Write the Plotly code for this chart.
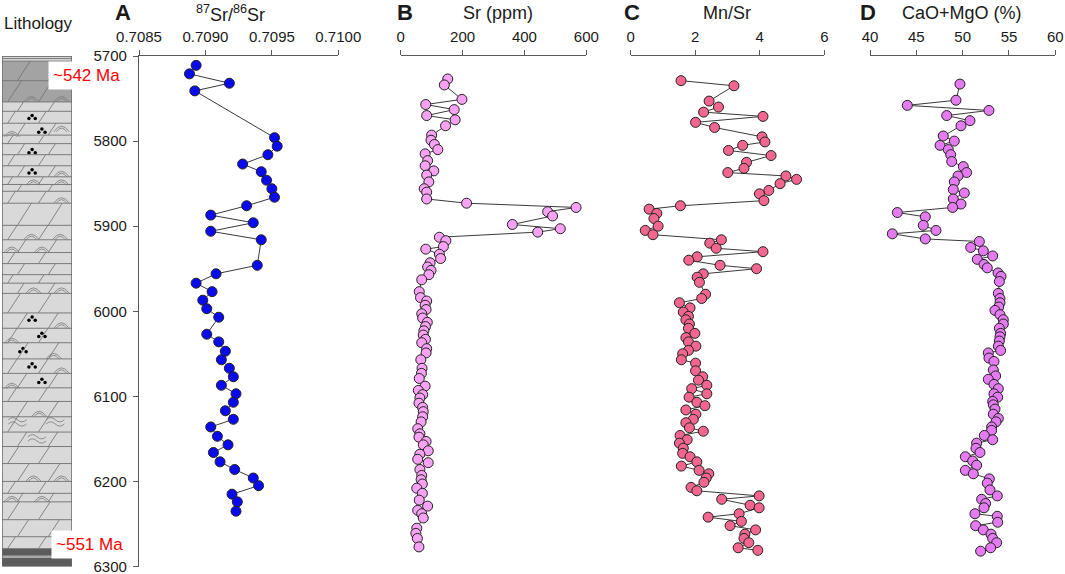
import plotly.graph_objects as go

# ---- data ----
# A: 87Sr/86Sr
a_depth = [5711, 5721, 5732, 5741, 5796, 5806, 5816, 5827, 5836, 5846,
           5856, 5866, 5876, 5887, 5896, 5906, 5916, 5946, 5956, 5967,
           5977, 5987, 5997, 6007, 6027, 6036, 6047, 6057, 6067, 6077,
           6087, 6097, 6107, 6117, 6127, 6136, 6147, 6157, 6166, 6177,
           6186, 6196, 6205, 6215, 6224, 6235]
a_sr_ratio = [0.70893, 0.70888, 0.70918, 0.70892, 0.70952, 0.70954, 0.70947, 0.70928, 0.70942, 0.70946,
              0.70950, 0.70952, 0.70931, 0.70904, 0.70936, 0.70904, 0.70942, 0.70939, 0.70908, 0.70893,
              0.70905, 0.70898, 0.70901, 0.70910, 0.70901, 0.70910, 0.70915, 0.70912, 0.70918, 0.70921,
              0.70912, 0.70923, 0.70921, 0.70915, 0.70921, 0.70904, 0.70909, 0.70917, 0.70906, 0.70911,
              0.70922, 0.70936, 0.70940, 0.70920, 0.70924, 0.70923]

# B: Sr (ppm)
b_depth = [5727, 5734, 5751, 5757, 5763, 5770, 5775, 5782, 5793, 5799,
           5804, 5810, 5815, 5823, 5829, 5835, 5840, 5848, 5856, 5860,
           5868, 5873, 5878, 5883, 5888, 5898, 5903, 5907, 5913, 5917,
           5924, 5927, 5933, 5938, 5943, 5948, 5952, 5957, 5963, 5977,
           5984, 5988, 5993, 5998, 6003, 6008, 6013, 6018, 6023, 6028,
           6033, 6037, 6044, 6049, 6057, 6067, 6073, 6079, 6088, 6093,
           6098, 6102, 6108, 6113, 6118, 6124, 6130, 6138, 6144, 6148,
           6153, 6157, 6164, 6168, 6174, 6178, 6186, 6193, 6198, 6203,
           6208, 6214, 6222, 6229, 6234, 6238, 6243, 6255, 6261, 6267,
           6277]
b_sr = [152, 141, 198, 81, 173, 84, 176, 145, 100, 98,
        109, 120, 79, 87, 79, 107, 84, 91, 76, 84,
        84, 213, 567, 475, 491, 361, 516, 443, 125, 146,
        138, 81, 125, 129, 95, 87, 98, 91, 68, 60,
        64, 84, 79, 82, 68, 71, 86, 80, 75, 73,
        80, 68, 84, 82, 65, 69, 67, 60, 79, 57,
        71, 62, 59, 71, 73, 71, 66, 55, 62, 59,
        82, 73, 89, 62, 55, 89, 62, 68, 66, 70,
        52, 70, 60, 87, 55, 68, 73, 52, 49, 54,
        59]

# C: Mn/Sr
c_depth = [5729, 5735, 5753, 5760, 5766, 5771, 5778, 5784, 5795, 5801,
           5805, 5811, 5817, 5825, 5832, 5837, 5841, 5845, 5850, 5858,
           5862, 5870, 5876, 5880, 5885, 5891, 5900, 5905, 5910, 5916,
           5920, 5926, 5930, 5936, 5940, 5946, 5950, 5956, 5960, 5966,
           5980, 5985, 5990, 5996, 6001, 6006, 6010, 6015, 6020, 6026,
           6031, 6036, 6041, 6046, 6050, 6057, 6061, 6070, 6077, 6081,
           6087, 6091, 6097, 6101, 6107, 6111, 6116, 6121, 6127, 6131,
           6137, 6141, 6146, 6151, 6155, 6161, 6167, 6171, 6177, 6182,
           6187, 6191, 6196, 6201, 6207, 6211, 6217, 6221, 6228, 6231,
           6238, 6242, 6247, 6252, 6257, 6262, 6267, 6272, 6278, 6281]
c_mn_sr = [1.56, 3.20, 2.43, 2.72, 2.26, 4.10, 2.01, 2.60, 4.07, 4.16,
           3.47, 3.03, 4.35, 3.59, 3.51, 3.01, 4.81, 5.14, 4.63, 4.28,
           3.99, 4.13, 1.54, 0.57, 0.81, 0.72, 0.85, 0.45, 0.69, 2.81,
           2.45, 2.65, 4.10, 2.06, 1.80, 2.77, 3.90, 2.25, 2.06, 2.13,
           2.32, 2.20, 1.51, 1.84, 1.63, 1.79, 1.71, 1.82, 1.79, 1.99,
           1.71, 1.79, 2.02, 1.79, 1.61, 1.57, 2.01, 2.01, 2.23, 2.10,
           2.36, 1.89, 2.36, 1.81, 2.05, 2.30, 1.71, 2.02, 1.94, 1.71,
           1.82, 2.25, 1.53, 1.75, 1.51, 1.63, 1.61, 1.84, 2.05, 1.57,
           2.12, 2.42, 2.34, 2.27, 1.87, 2.05, 3.98, 2.82, 3.70, 3.98,
           3.36, 2.40, 3.43, 3.08, 3.87, 3.54, 3.51, 3.66, 3.33, 3.94]

# D: CaO+MgO (%)
d_depth = [5733, 5752, 5758, 5764, 5770, 5776, 5782, 5794, 5800, 5805,
           5810, 5816, 5824, 5830, 5837, 5841, 5848, 5857, 5861, 5868,
           5874, 5878, 5884, 5889, 5899, 5905, 5909, 5915, 5918, 5925,
           5929, 5935, 5939, 5945, 5949, 5955, 5959, 5965, 5979, 5985,
           5990, 5995, 5999, 6004, 6010, 6015, 6020, 6026, 6030, 6035,
           6041, 6046, 6049, 6055, 6059, 6069, 6076, 6080, 6086, 6091,
           6097, 6101, 6106, 6110, 6115, 6121, 6126, 6130, 6136, 6140,
           6146, 6151, 6155, 6161, 6166, 6171, 6176, 6181, 6187, 6191,
           6197, 6202, 6210, 6217, 6221, 6226, 6231, 6238, 6241, 6248,
           6252, 6257, 6262, 6267, 6272, 6278, 6282]
d_cao_mgo = [49.71, 49.28, 44.03, 52.84, 48.28, 50.79, 49.82, 47.91, 49.10, 47.56,
             48.45, 48.71, 48.82, 50.07, 50.43, 49.50, 49.10, 48.99, 50.18, 48.99,
             49.82, 48.92, 42.95, 45.97, 45.75, 47.12, 42.41, 45.97, 51.80, 50.87,
             52.23, 53.24, 51.58, 52.30, 52.66, 53.82, 54.14, 53.96, 53.85, 54.03,
             54.03, 53.89, 53.49, 54.03, 54.39, 54.39, 53.96, 54.10, 54.03, 53.96,
             53.85, 54.10, 52.77, 52.84, 53.38, 53.31, 53.56, 52.77, 53.38, 53.85,
             53.38, 53.78, 53.24, 53.31, 53.49, 53.31, 53.85, 53.60, 53.13, 53.13,
             52.34, 53.24, 51.51, 51.44, 51.87, 50.29, 51.08, 51.51, 50.29, 51.15,
             52.88, 52.66, 52.95, 53.74, 52.05, 52.48, 52.30, 51.33, 53.74, 53.78,
             51.40, 52.23, 53.06, 53.24, 53.67, 53.02, 51.94]

# lithology column (depths)
bed_tops = [5700, 5703, 5706, 5729, 5754, 5765, 5779, 5793, 5803, 5816,
            5829, 5842, 5851, 5859, 5873, 5899, 5916, 5931, 5944, 5957,
            5967, 5979, 6002, 6020, 6037, 6056, 6073, 6090, 6106, 6124,
            6142, 6159, 6179, 6200, 6214, 6224, 6245, 6265, 6279]
dark_top = (5706, 5754)
dark_bottom = (6279, 6300)
arc_depths = [5754, 5754, 5789, 5795, 5842, 5852, 5852, 5873, 5916, 5916,
              5931, 5931, 5979, 5979, 6020, 6038, 6056, 6073, 6091, 6124,
              6200, 6200, 6224, 6224]
arc_pos = [0.42, 0.85, 0.85, 0.14, 0.85, 0.45, 0.85, 0.85, 0.42, 0.83,
           0.14, 0.57, 0.45, 0.85, 0.85, 0.14, 0.74, 0.85, 0.14, 0.53,
           0.45, 0.85, 0.14, 0.57]
dot_depths = [5772, 5788, 5812, 5836, 6009, 6028, 6046, 6064, 6082]
dot_pos = [0.43, 0.57, 0.43, 0.43, 0.43, 0.57, 0.30, 0.43, 0.57]
wave_depths = [6130, 6130, 6150]
wave_pos = [0.22, 0.76, 0.50]

depth_ticks = [5700, 5800, 5900, 6000, 6100, 6200, 6300]

W, H = 1065, 574


def px(x):
    return x / W


def py(y):
    return 1 - y / H


fig = go.Figure()

AX_COLOR = "#595959"
LINE_COLOR = "#3a3a3a"

panels = [
    ("x", a_sr_ratio, a_depth, "#0a0af0"),
    ("x2", b_sr, b_depth, "#f7a2f2"),
    ("x3", c_mn_sr, c_depth, "#f2668f"),
    ("x4", d_cao_mgo, d_depth, "#e57bf0"),
]
for xa, xs, ys, col in panels:
    fig.add_trace(go.Scatter(
        x=xs, y=ys, xaxis=xa, yaxis="y", mode="lines+markers",
        line=dict(color=LINE_COLOR, width=1),
        marker=dict(size=10, color=col, line=dict(color="#222222", width=1)),
        showlegend=False, hoverinfo="x+y", cliponaxis=False,
    ))

# lithology: dots (oolitic marks)
dx, dy = [], []
for d, p in zip(dot_depths, dot_pos):
    dx += [p, p - 0.045, p + 0.045]
    dy += [d - 2.2, d + 1.6, d + 1.6]
fig.add_trace(go.Scatter(x=dx, y=dy, xaxis="x5", yaxis="y", mode="markers",
                         marker=dict(size=3.5, color="black"),
                         showlegend=False, hoverinfo="skip"))

shapes = []
# column background
shapes.append(dict(type="rect", xref="x5", yref="y", x0=0, x1=1, y0=5700, y1=6300,
                   fillcolor="#d9d9d9", line=dict(width=0), layer="below"))
shapes.append(dict(type="rect", xref="x5", yref="y", x0=0, x1=1,
                   y0=dark_top[0], y1=dark_top[1],
                   fillcolor="#a3a3a3", line=dict(width=0), layer="below"))
shapes.append(dict(type="rect", xref="x5", yref="y", x0=0, x1=1,
                   y0=dark_bottom[0], y1=dark_bottom[1],
                   fillcolor="#5c5c5c", line=dict(width=0), layer="below"))
shapes.append(dict(type="rect", xref="x5", yref="y", x0=0, x1=1,
                   y0=6287, y1=6290,
                   fillcolor="#a8a8a8", line=dict(width=0), layer="below"))

# bed boundaries and slanted dolomite marks
beds = bed_tops + [6300]
for i in range(len(beds) - 1):
    top, bot = beds[i], beds[i + 1]
    shapes.append(dict(type="line", xref="x5", yref="y", x0=0, x1=1, y0=top, y1=top,
                       line=dict(color="#7a7a7a", width=1)))
    if bot - top < 8 or top >= dark_bottom[0]:
        continue
    slant = min(0.008 * (bot - top), 0.2)
    offs = [0.22, 0.66] if i % 2 == 0 else [0.08, 0.52]
    for o in offs:
        shapes.append(dict(type="line", xref="x5", yref="y",
                           x0=o, x1=o + slant, y0=bot, y1=top,
                           line=dict(color="#6e6e6e", width=0.8)))

# stromatolite arcs
for d, p in zip(arc_depths, arc_pos):
    for hw, hh in [(0.11, 6.5), (0.075, 4.2)]:
        path = "M %.3f,%.1f Q %.3f,%.1f %.3f,%.1f" % (p - hw, d, p, d - 2 * hh, p + hw, d)
        shapes.append(dict(type="path", xref="x5", yref="y", path=path,
                           line=dict(color="#7a7a7a", width=0.8)))

# wavy marks
for d, p in zip(wave_depths, wave_pos):
    for off in [-2.5, 2.5]:
        y0 = d + off
        path = "M %.3f,%.1f Q %.3f,%.1f %.3f,%.1f Q %.3f,%.1f %.3f,%.1f" % (
            p - 0.13, y0, p - 0.065, y0 - 5, p, y0, p + 0.065, y0 + 5, p + 0.13, y0)
        shapes.append(dict(type="path", xref="x5", yref="y", path=path,
                           line=dict(color="#7a7a7a", width=0.8)))

# column border
shapes.append(dict(type="rect", xref="x5", yref="y", x0=0, x1=1, y0=5700, y1=6300,
                   line=dict(color="#6a6a6a", width=1.5)))


def top_axis(domain, rng, tickvals, ticktext):
    return dict(domain=domain, range=rng, side="top", anchor="y",
                tickvals=tickvals, ticktext=ticktext, automargin=False,
                showline=True, linecolor=AX_COLOR, linewidth=1.2,
                ticks="outside", ticklen=5, tickcolor=AX_COLOR, tickwidth=1.2,
                showgrid=False, zeroline=False, ticklabelstandoff=2,
                ticklabeloverflow="allow",
                tickfont=dict(size=15, color="#1a1a1a"))


fig.update_layout(
    width=W, height=H,
    margin=dict(l=0, r=0, t=0, b=0, autoexpand=False),
    plot_bgcolor="white", paper_bgcolor="white",
    font=dict(family="Liberation Sans, Arial, sans-serif", color="#1a1a1a"),
    xaxis=top_axis([px(139), px(338.3)], [0.7085, 0.7100],
                   [0.7085, 0.7090, 0.7095, 0.7100], ["0.7085", "0.7090", "0.7095", "0.7100"]),
    xaxis2=top_axis([px(400.7), px(586.3)], [0, 600],
                    [0, 200, 400, 600], ["0", "200", "400", "600"]),
    xaxis3=top_axis([px(630.7), px(824.3)], [0, 6],
                    [0, 2, 4, 6], ["0", "2", "4", "6"]),
    xaxis4=top_axis([px(870), px(1055.3)], [40, 60],
                    [40, 45, 50, 55, 60], ["40", "45", "50", "55", "60"]),
    xaxis5=dict(domain=[px(2), px(72)], range=[0, 1], anchor="y", visible=False,
                automargin=False),
    yaxis=dict(domain=[py(566.5), py(56)], range=[6300, 5700], anchor="x",
               tickvals=depth_ticks, showline=True, linecolor=AX_COLOR, linewidth=1.2,
               ticks="outside", ticklen=5, tickcolor=AX_COLOR, tickwidth=1.2,
               showgrid=False, zeroline=False, automargin=False, ticklabelstandoff=3,
               ticklabeloverflow="allow",
               tickfont=dict(size=15, color="#1a1a1a")),
    shapes=shapes,
)

annots = [
    dict(text="Lithology", x=px(38), y=py(23), font=dict(size=17)),
    dict(text="<b>A</b>", x=px(122.5), y=py(12), font=dict(size=22)),
    dict(text="<sup>87</sup>Sr/<sup>86</sup>Sr", x=px(230), y=py(13), font=dict(size=18)),
    dict(text="<b>B</b>", x=px(405), y=py(12), font=dict(size=22)),
    dict(text="Sr (ppm)", x=px(498), y=py(13), font=dict(size=18)),
    dict(text="<b>C</b>", x=px(631.7), y=py(12), font=dict(size=22)),
    dict(text="Mn/Sr", x=px(727), y=py(13), font=dict(size=18)),
    dict(text="<b>D</b>", x=px(868), y=py(12), font=dict(size=22)),
    dict(text="CaO+MgO (%)", x=px(962), y=py(13), font=dict(size=18)),
]
for a in annots:
    fig.add_annotation(xref="paper", yref="paper", showarrow=False,
                       xanchor="center", yanchor="middle", **a)

for label, xc, yc in [("~542 Ma", 86, 75), ("~551 Ma", 89, 544)]:
    fig.add_annotation(text=label, xref="paper", yref="paper", x=px(xc), y=py(yc),
                       showarrow=False, xanchor="center", yanchor="middle",
                       font=dict(size=17, color="#ff0000"),
                       bgcolor="white", borderpad=4)

# the page's default body margin would shift the figure by 8 px
fig.write_html("out.html", config={"displayModeBar": False},
               post_script="document.body.style.margin='0';")
